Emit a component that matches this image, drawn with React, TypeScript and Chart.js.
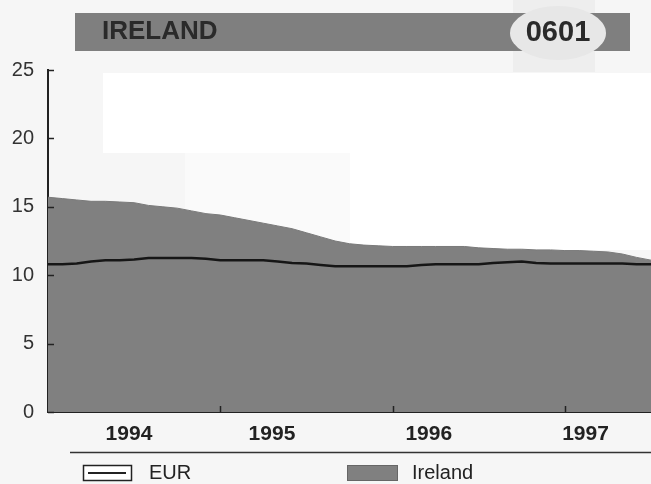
import { useEffect, useRef } from 'react';
import { Chart, registerables } from 'chart.js';

Chart.register(...registerables);

// ---- data ----
const startYear = 1994; // monthly observations from Jan 1994
const seriesNames = ['EUR', 'Ireland'];
const eurValues = [
  10.8, 10.8, 10.85, 11.0, 11.1, 11.1, 11.15, 11.25, 11.25, 11.25, 11.25, 11.2,
  11.1, 11.1, 11.1, 11.1, 11.0, 10.9, 10.85, 10.75, 10.65, 10.65, 10.65, 10.65,
  10.65, 10.65, 10.75, 10.8, 10.8, 10.8, 10.8, 10.9, 10.95, 11.0, 10.9, 10.85,
  10.85, 10.85, 10.85, 10.85, 10.85, 10.8, 10.8,
];
const irelandValues = [
  15.7, 15.6, 15.5, 15.4, 15.4, 15.35, 15.3, 15.1, 15.0, 14.9, 14.7, 14.5,
  14.4, 14.2, 14.0, 13.8, 13.6, 13.4, 13.1, 12.8, 12.5, 12.3, 12.2, 12.15,
  12.1, 12.1, 12.1, 12.1, 12.1, 12.1, 12.0, 11.95, 11.9, 11.9, 11.85, 11.85,
  11.8, 11.8, 11.75, 11.7, 11.55, 11.3, 11.1,
];
const yearLabels = ['1994', '1995', '1996', '1997'];
const yearLabelAt = [1994.47, 1995.3, 1996.21, 1997.12];
const yearBoundaries = [1995, 1996, 1997];
const yTickValues = [0, 5, 10, 15, 20, 25];
const titleText = 'IRELAND';
const codeText = '0601';

const FONT = '"Liberation Sans", Arial, Helvetica, sans-serif';

const toPoints = (vals: number[]) =>
  vals.map((v, i) => ({ x: startYear + i / 12, y: v }));

const decorPlugin = {
  id: 'decor',
  beforeDraw(chart: any) {
    const ctx = chart.ctx;
    ctx.save();
    ctx.fillStyle = '#f6f6f6';
    ctx.fillRect(0, 0, chart.width, chart.height);
    ctx.fillStyle = '#ffffff';
    ctx.fillRect(103, 73, chart.width - 103, 80);
    ctx.fillRect(350, 150, chart.width - 350, 100);
    ctx.fillStyle = '#fafafa';
    ctx.fillRect(185, 153, 165, 100);
    // title
    ctx.fillStyle = '#eeeeee';
    ctx.fillRect(513, 0, 82, 72);
    ctx.fillStyle = '#7f7f7f';
    ctx.fillRect(75, 13, 555, 38);
    ctx.fillStyle = '#e7e7e7';
    ctx.beginPath();
    ctx.ellipse(558, 33, 48, 27, 0, 0, Math.PI * 2);
    ctx.fill();
    ctx.fillStyle = '#2a2a2a';
    ctx.textBaseline = 'middle';
    ctx.textAlign = 'left';
    ctx.font = `bold 26px ${FONT}`;
    ctx.fillText(titleText, 102, 32);
    ctx.textAlign = 'center';
    ctx.font = `bold 29px ${FONT}`;
    ctx.fillText(codeText, 558, 33);
    ctx.restore();
  },
  afterDraw(chart: any) {
    const ctx = chart.ctx;
    const x = chart.scales.x;
    const y = chart.scales.y;
    const area = chart.chartArea;
    ctx.save();
    ctx.strokeStyle = '#222';
    ctx.lineWidth = 1.5;
    // inward y ticks
    yTickValues.forEach((v) => {
      const py = Math.round(y.getPixelForValue(v)) + 0.5;
      ctx.beginPath();
      ctx.moveTo(area.left, py);
      ctx.lineTo(area.left + 6, py);
      ctx.stroke();
    });
    // inward x ticks at year boundaries
    yearBoundaries.forEach((v) => {
      const px = Math.round(x.getPixelForValue(v)) + 0.5;
      ctx.beginPath();
      ctx.moveTo(px, area.bottom);
      ctx.lineTo(px, area.bottom - 6);
      ctx.stroke();
    });
    // legend separator
    ctx.strokeStyle = '#333';
    ctx.lineWidth = 1.5;
    ctx.beginPath();
    ctx.moveTo(70, 452.5);
    ctx.lineTo(chart.width, 452.5);
    ctx.stroke();
    // legend items
    const ds = chart.data.datasets;
    ctx.font = `20px ${FONT}`;
    ctx.textBaseline = 'middle';
    ctx.textAlign = 'left';
    // EUR
    ctx.fillStyle = '#ffffff';
    ctx.fillRect(83, 465, 48, 15);
    ctx.strokeStyle = '#222';
    ctx.lineWidth = 1.5;
    ctx.strokeRect(83.5, 465.5, 48, 15);
    ctx.lineWidth = 2;
    ctx.beginPath();
    ctx.moveTo(88, 473);
    ctx.lineTo(126, 473);
    ctx.stroke();
    ctx.fillStyle = '#222';
    ctx.fillText(ds[0].label, 149, 473);
    // Ireland
    ctx.fillStyle = ds[1].backgroundColor;
    ctx.fillRect(347, 465, 50, 15);
    ctx.strokeStyle = '#666';
    ctx.lineWidth = 1;
    ctx.strokeRect(347.5, 465.5, 50, 15);
    ctx.fillStyle = '#222';
    ctx.fillText(ds[1].label, 412, 473);
    ctx.restore();
  },
};

export default function App() {
  const ref = useRef<HTMLCanvasElement | null>(null);
  useEffect(() => {
    if (!ref.current) return;
    const chart = new Chart(ref.current, {
      type: 'line',
      data: {
        datasets: [
          {
            label: seriesNames[0],
            data: toPoints(eurValues),
            borderColor: '#161616',
            borderWidth: 2.5,
            pointRadius: 0,
            fill: false,
            tension: 0,
          },
          {
            label: seriesNames[1],
            data: toPoints(irelandValues),
            borderColor: '#7a7a7a',
            backgroundColor: '#808080',
            borderWidth: 1,
            pointRadius: 0,
            fill: 'origin',
            tension: 0,
          },
        ],
      },
      options: {
        responsive: false,
        animation: false,
        events: [],
        layout: { padding: { left: 8, top: 70, right: 0, bottom: 0 } },
        plugins: { legend: { display: false }, tooltip: { enabled: false } },
        scales: {
          x: {
            type: 'linear',
            min: startYear,
            max: 1997.5,
            afterBuildTicks: (s: any) => {
              s.ticks = yearLabelAt.map((v) => ({ value: v }));
            },
            afterFit: (s: any) => {
              s.height = 72;
            },
            ticks: {
              autoSkip: false,
              maxRotation: 0,
              padding: 10,
              color: '#222',
              font: { family: FONT, size: 21, weight: 'bold' },
              callback: (_v: any, i: number) => yearLabels[i],
            },
            grid: { display: true, drawOnChartArea: false, drawTicks: false },
            border: { display: true, color: '#222', width: 2 },
          },
          y: {
            min: 0,
            max: 25,
            afterBuildTicks: (s: any) => {
              s.ticks = yTickValues.map((v) => ({ value: v }));
            },
            afterFit: (s: any) => {
              s.width = 40;
            },
            ticks: {
              padding: 14,
              color: '#333',
              font: { family: FONT, size: 20 },
            },
            grid: { display: true, drawOnChartArea: false, drawTicks: false },
            border: { display: true, color: '#222', width: 2 },
          },
        },
      },
      plugins: [decorPlugin],
    } as any);
    return () => chart.destroy();
  }, []);
  return (
    <div style={{ position: 'absolute', left: 0, top: 0, width: 651, height: 484 }}>
      <canvas ref={ref} width={651} height={484} />
    </div>
  );
}
